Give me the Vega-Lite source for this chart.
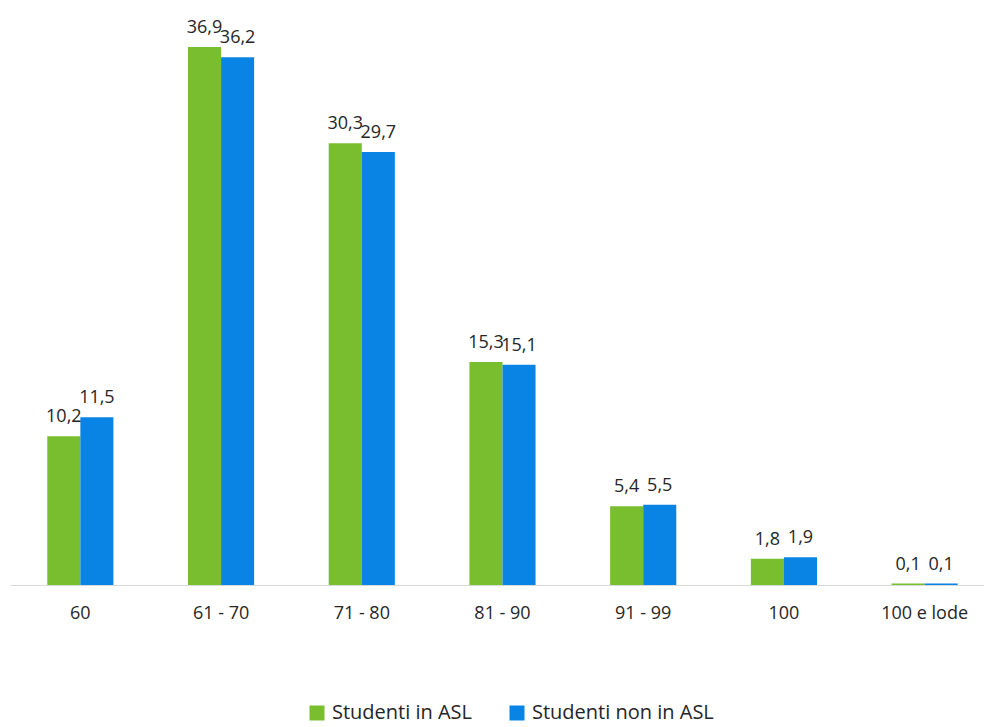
{
  "$schema": "https://vega.github.io/schema/vega-lite/v6.json",
  "autosize": "none",
  "width": 985,
  "height": 565,
  "padding": {"left": 10, "top": 20, "right": 0, "bottom": 142},
  "background": "white",
  "config": {
    "view": {"stroke": null},
    "font": "Open Sans"
  },
  "data": {
    "values": [
      {"fascia": "60", "gruppo": "Studenti in ASL", "valore": 10.2, "etichetta": "10,2"},
      {"fascia": "60", "gruppo": "Studenti non in ASL", "valore": 11.5, "etichetta": "11,5"},
      {"fascia": "61 - 70", "gruppo": "Studenti in ASL", "valore": 36.9, "etichetta": "36,9"},
      {"fascia": "61 - 70", "gruppo": "Studenti non in ASL", "valore": 36.2, "etichetta": "36,2"},
      {"fascia": "71 - 80", "gruppo": "Studenti in ASL", "valore": 30.3, "etichetta": "30,3"},
      {"fascia": "71 - 80", "gruppo": "Studenti non in ASL", "valore": 29.7, "etichetta": "29,7"},
      {"fascia": "81 - 90", "gruppo": "Studenti in ASL", "valore": 15.3, "etichetta": "15,3"},
      {"fascia": "81 - 90", "gruppo": "Studenti non in ASL", "valore": 15.1, "etichetta": "15,1"},
      {"fascia": "91 - 99", "gruppo": "Studenti in ASL", "valore": 5.4, "etichetta": "5,4"},
      {"fascia": "91 - 99", "gruppo": "Studenti non in ASL", "valore": 5.5, "etichetta": "5,5"},
      {"fascia": "100", "gruppo": "Studenti in ASL", "valore": 1.8, "etichetta": "1,8"},
      {"fascia": "100", "gruppo": "Studenti non in ASL", "valore": 1.9, "etichetta": "1,9"},
      {"fascia": "100 e lode", "gruppo": "Studenti in ASL", "valore": 0.1, "etichetta": "0,1"},
      {"fascia": "100 e lode", "gruppo": "Studenti non in ASL", "valore": 0.1, "etichetta": "0,1"}
    ]
  },
  "encoding": {
    "x": {
      "field": "fascia",
      "type": "nominal",
      "sort": null,
      "scale": {"paddingInner": 0.53, "paddingOuter": 0.265},
      "axis": {
        "title": null,
        "labelAngle": 0,
        "ticks": false,
        "labelPadding": 19,
        "labelFontSize": 18,
        "labelColor": "#262626",
        "domainColor": "#d9d9d9",
        "domainWidth": 1
      }
    },
    "xOffset": {"field": "gruppo", "type": "nominal", "sort": ["Studenti in ASL", "Studenti non in ASL"]},
    "y": {
      "field": "valore",
      "type": "quantitative",
      "scale": {"domain": [0, 38.75], "nice": false, "zero": true},
      "axis": null
    }
  },
  "layer": [
    {
      "mark": {"type": "bar"},
      "encoding": {
        "color": {
          "field": "gruppo",
          "type": "nominal",
          "sort": ["Studenti in ASL", "Studenti non in ASL"],
          "scale": {"domain": ["Studenti in ASL", "Studenti non in ASL"], "range": ["#78be2e", "#0a84e4"]},
          "legend": {
            "title": null,
            "orient": "none",
            "direction": "horizontal",
            "legendX": 297,
            "legendY": 683,
            "symbolType": "square",
            "symbolSize": 225,
            "symbolStrokeWidth": 0,
            "labelFontSize": 20,
            "labelLimit": 400,
            "labelColor": "#262626",
            "columnPadding": 34,
            "labelOffset": 5
          }
        }
      }
    },
    {
      "mark": {"type": "text", "baseline": "alphabetic", "dy": -14, "fontSize": 18, "color": "#262626"},
      "encoding": {
        "text": {"field": "etichetta", "type": "nominal"}
      }
    }
  ]
}
